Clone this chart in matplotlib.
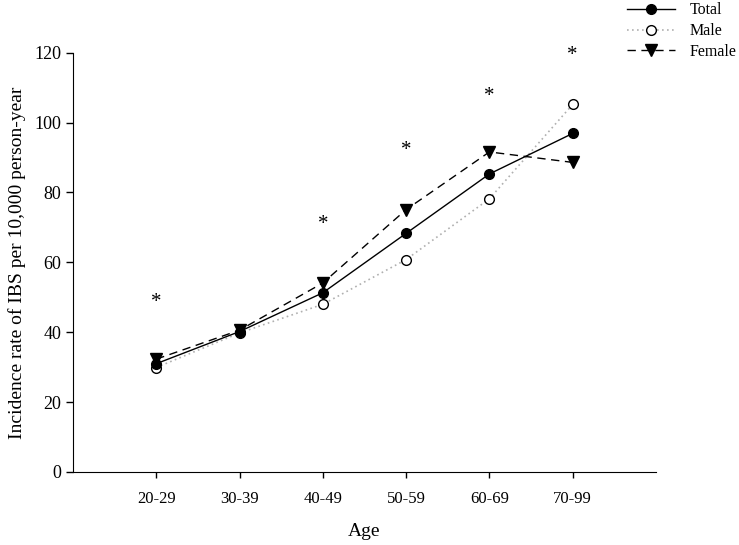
import numpy as np
import matplotlib
matplotlib.use("Agg")
from matplotlib import pyplot as plt
from matplotlib.lines import Line2D

age_groups = ["20-29", "30-39", "40-49", "50-59", "60-69", "70-99"]
total = [31.0, 40.2, 51.3, 68.3, 85.3, 96.9]
male = [29.9, 39.8, 48.0, 60.8, 78.2, 105.2]
female = [32.3, 40.6, 54.1, 75.1, 91.6, 88.6]
# significance markers (male vs female)
star_y = [49.6, None, 72.0, 93.1, 108.7, 120.4]

plt.rcParams["font.family"] = ["Liberation Serif", "DejaVu Serif"]

fig = plt.figure(figsize=(7.39, 5.45), dpi=100)
ax = fig.add_axes([73 / 739, 1 - 472 / 545, (656 - 73) / 739, (472 - 52.7) / 545])

x = np.arange(1, len(age_groups) + 1)

ax.plot(x, male, linestyle=(0, (1, 2)), color="#b0b0b0", linewidth=1.2,
        marker="o", markersize=7, markerfacecolor="white",
        markeredgecolor="black", markeredgewidth=1.0, zorder=2)
ax.plot(x, female, linestyle=(0, (6, 4)), color="black", linewidth=1.0,
        marker="v", markersize=8, markerfacecolor="black",
        markeredgecolor="black", zorder=3)
ax.plot(x, total, linestyle="-", color="black", linewidth=1.0,
        marker="o", markersize=7, markerfacecolor="black",
        markeredgecolor="black", zorder=4)

for xi, sy in zip(x, star_y):
    if sy is not None:
        ax.annotate("*", (xi, sy), xytext=(0, -3), textcoords="offset points",
                    ha="center", va="center", fontsize=15, annotation_clip=False)

ax.set_xlim(0, 7)
ax.set_ylim(0, 120)
ax.set_xticks(x)
ax.set_xticklabels(age_groups, fontsize=12)
ax.set_yticks(np.arange(0, 121, 20))
ax.tick_params(axis="y", labelsize=13, direction="out", length=5, width=1)
ax.tick_params(axis="x", direction="out", length=4, width=1, pad=10)
ax.spines["top"].set_visible(False)
ax.spines["right"].set_visible(False)

ax.set_xlabel("Age", fontsize=14, labelpad=11)
ax.set_ylabel("Incidence rate of IBS per 10,000 person-year", fontsize=14, labelpad=6)

handles = [
    Line2D([], [], color="black", linewidth=1.0, marker="o", markersize=7,
           markerfacecolor="black"),
    Line2D([], [], color="#b0b0b0", linestyle=(0, (1, 2)), linewidth=1.2,
           marker="o", markersize=7, markerfacecolor="white",
           markeredgecolor="black"),
    Line2D([], [], color="black", linestyle=(0, (6, 4)), linewidth=1.0,
           marker="v", markersize=8, markerfacecolor="black"),
]
fig.legend(handles, ["Total", "Male", "Female"], loc="upper right",
           bbox_to_anchor=(1.0, 1.0), frameon=False, fontsize=11.5,
           handlelength=3.0, handletextpad=0.9, labelspacing=0.3,
           borderaxespad=0.0, borderpad=0.15)

fig.savefig("out.png", dpi=100)
